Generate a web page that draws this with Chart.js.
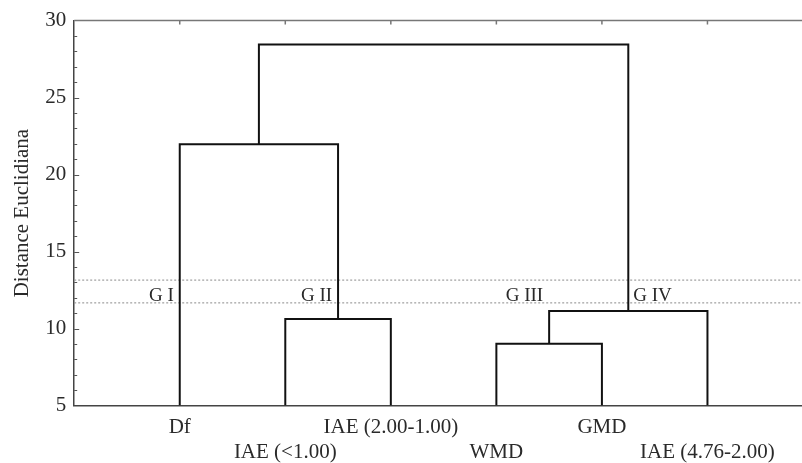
<!DOCTYPE html>
<html>
<head>
<meta charset="UTF-8">
<title>Dendrograma - Distance Euclidiana</title>
<script src="https://cdn.jsdelivr.net/npm/chart.js"></script>
<style>
    html, body { margin: 0; padding: 0; background: #fff; overflow: hidden; }
    #wrap { width: 822px; height: 471px; }
</style>
</head>
<body>
<div id="wrap"><canvas id="myChart"></canvas></div>
<script>
    // leaves (ids 0-5), merges get ids 6, 7, ... in this order
    const leafNames = ['Df', 'IAE (<1.00)', 'IAE (2.00-1.00)', 'WMD', 'GMD', 'IAE (4.76-2.00)'];
    const mergeLeft = [1, 3, 7, 0, 9];
    const mergeRight = [2, 4, 5, 6, 8];
    const mergeHeights = [10.63, 9.02, 11.15, 21.97, 28.45];
    const cutLevels = [13.15, 11.67];
    const groupNames = ['G I', 'G II', 'G III', 'G IV'];
    const groupNodes = [0, 6, 7, 8];
    const yMin = 5, yMax = 30;
    const xMax = 7;

    const FONT = 'Liberation Serif, Times New Roman, serif';

    // node positions along x and their heights
    const nodeX = leafNames.map((n, i) => i + 1);
    const nodeH = leafNames.map(() => yMin);
    mergeHeights.forEach((h, k) => {
        nodeX.push((nodeX[mergeLeft[k]] + nodeX[mergeRight[k]]) / 2);
        nodeH.push(h);
    });

    const datasets = mergeHeights.map((h, k) => {
        const a = mergeLeft[k], b = mergeRight[k];
        return {
            data: [
                { x: nodeX[a], y: nodeH[a] },
                { x: nodeX[a], y: h },
                { x: nodeX[b], y: h },
                { x: nodeX[b], y: nodeH[b] }
            ],
            showLine: true,
            borderColor: '#111',
            borderWidth: 2,
            pointRadius: 0,
            tension: 0
        };
    });

    cutLevels.forEach(c => {
        datasets.push({
            data: [{ x: 0, y: c }, { x: xMax, y: c }],
            showLine: true,
            borderColor: '#8a8a8a',
            borderWidth: 1,
            borderDash: [2, 2],
            pointRadius: 0
        });
    });

    // frame top line, inner tick marks and group labels
    const extras = {
        id: 'extras',
        afterDatasetsDraw(chart) {
            const { ctx, chartArea: area, scales: { x, y } } = chart;
            ctx.save();
            ctx.strokeStyle = '#777';
            ctx.lineWidth = 1.5;
            ctx.beginPath();
            ctx.moveTo(area.left, area.top);
            ctx.lineTo(area.right, area.top);
            for (let i = 0; i < leafNames.length; i++) {
                const px = x.getPixelForValue(nodeX[i]);
                ctx.moveTo(px, area.top);
                ctx.lineTo(px, area.top + 4);
            }
            ctx.stroke();

            ctx.strokeStyle = '#555';
            ctx.lineWidth = 1;
            ctx.beginPath();
            for (let v = yMin + 1; v < yMax; v++) {
                const py = Math.round(y.getPixelForValue(v)) + 0.5;
                ctx.moveTo(area.left, py);
                ctx.lineTo(area.left + (v % 5 === 0 ? 5 : 3), py);
            }
            ctx.stroke();

            ctx.fillStyle = '#2a2a2a';
            ctx.font = '19px ' + FONT;
            ctx.textBaseline = 'middle';
            const gy = y.getPixelForValue((cutLevels[0] + cutLevels[1]) / 2) + 5;
            groupNodes.forEach((n, i) => {
                const px = x.getPixelForValue(nodeX[n]);
                if (i === groupNodes.length - 1) {
                    ctx.textAlign = 'left';
                    ctx.fillText(groupNames[i], px + 5, gy);
                } else {
                    ctx.textAlign = 'right';
                    ctx.fillText(groupNames[i], px - 6, gy);
                }
            });
            ctx.restore();
        }
    };

    new Chart(document.getElementById('myChart'), {
        type: 'scatter',
        data: { datasets: datasets },
        plugins: [extras],
        options: {
            responsive: true,
            maintainAspectRatio: false,
            animation: false,
            layout: { padding: { top: 6, right: 0, left: 8, bottom: -3 } },
            plugins: {
                legend: { display: false },
                tooltip: { enabled: false }
            },
            scales: {
                x: {
                    type: 'linear',
                    min: 0,
                    max: xMax,
                    grid: { display: false, drawTicks: false },
                    border: { display: true, color: '#444', width: 1.5 },
                    ticks: {
                        stepSize: 1,
                        autoSkip: false,
                        maxRotation: 0,
                        padding: 9,
                        color: '#2a2a2a',
                        font: { family: FONT, size: 21, lineHeight: 1.2 },
                        callback: v => {
                            const i = v - 1;
                            if (!Number.isInteger(v) || i < 0 || i >= leafNames.length) return '';
                            return i % 2 === 0 ? [leafNames[i]] : ['', leafNames[i]];
                        }
                    }
                },
                y: {
                    min: yMin,
                    max: yMax,
                    grid: { display: false, drawTicks: false },
                    border: { display: true, color: '#444', width: 1.5 },
                    ticks: {
                        stepSize: 5,
                        padding: 8,
                        color: '#2a2a2a',
                        font: { family: FONT, size: 21 }
                    },
                    title: {
                        display: true,
                        text: 'Distance Euclidiana',
                        color: '#2a2a2a',
                        padding: 2,
                        font: { family: FONT, size: 21 }
                    }
                }
            }
        }
    });
</script>
</body>
</html>
